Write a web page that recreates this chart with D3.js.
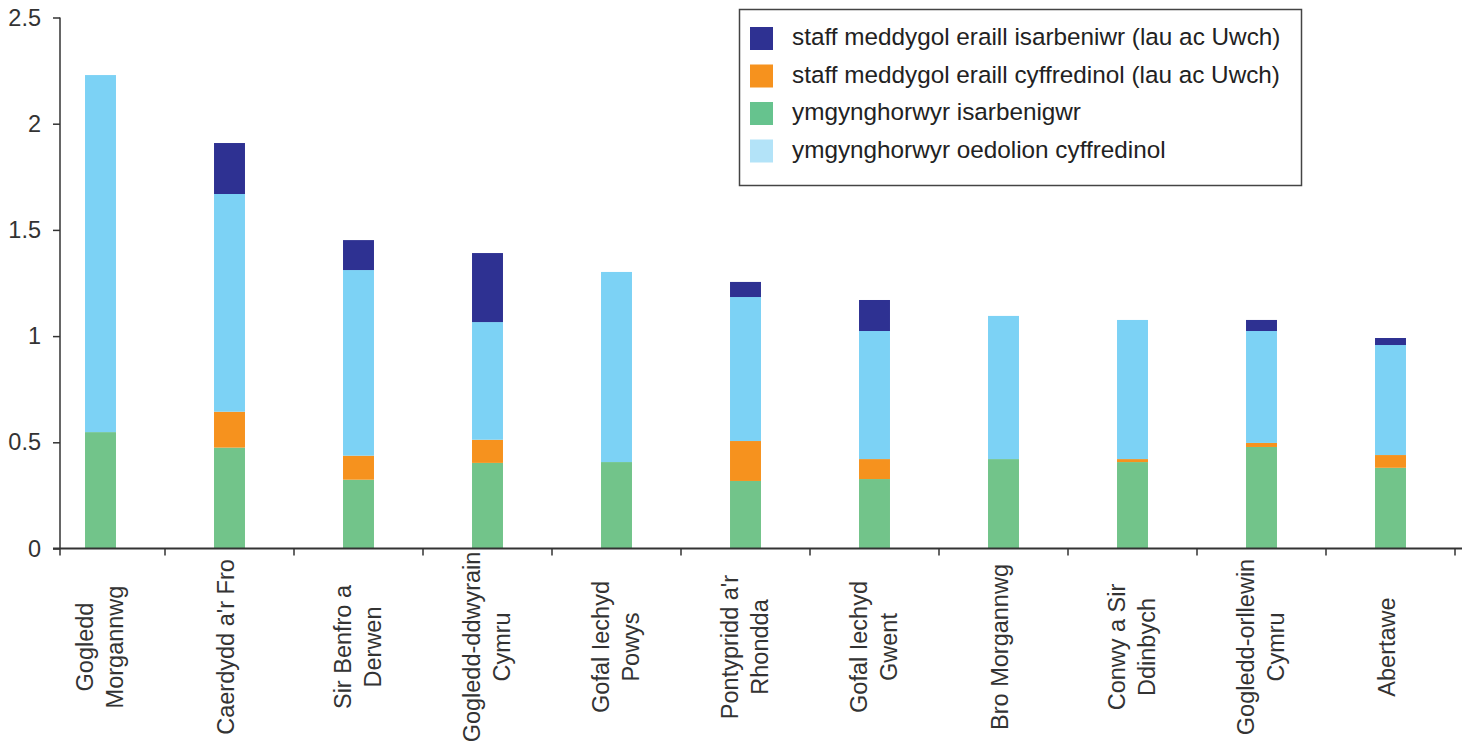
<!DOCTYPE html>
<html>
<head>
<meta charset="utf-8">
<script src="https://cdn.jsdelivr.net/npm/d3@7"></script>
<style>
  html, body { margin: 0; padding: 0; background: #fff; }
  svg { display: block; font-family: "Liberation Sans", Arial, Helvetica, sans-serif; }
</style>
</head>
<body>
<svg id="chart" width="1464" height="744"></svg>
<script>
// Health board names, broken into the lines used under each bar
const categories = [
  "Gogledd Morgannwg", "Caerdydd a'r Fro", "Sir Benfro a Derwen",
  "Gogledd-ddwyrain Cymru", "Gofal Iechyd Powys", "Pontypridd a'r Rhondda",
  "Gofal Iechyd Gwent", "Bro Morgannwg", "Conwy a Sir Ddinbych",
  "Gogledd-orllewin Cymru", "Abertawe"
];
const categoryLines = [
  ["Gogledd", "Morgannwg"], ["Caerdydd a'r Fro"], ["Sir Benfro a", "Derwen"],
  ["Gogledd-ddwyrain", "Cymru"], ["Gofal Iechyd", "Powys"], ["Pontypridd a'r", "Rhondda"],
  ["Gofal Iechyd", "Gwent"], ["Bro Morgannwg"], ["Conwy a Sir", "Ddinbych"],
  ["Gogledd-orllewin", "Cymru"], ["Abertawe"]
];

// Stacked series, bottom to top
const consultantsSpecialist = [0.548, 0.475, 0.324, 0.403, 0.407, 0.318, 0.327, 0.421, 0.407, 0.478, 0.380];
const otherStaffGeneral     = [0.000, 0.169, 0.113, 0.109, 0.000, 0.188, 0.094, 0.000, 0.014, 0.019, 0.060];
const consultantsGeneral    = [1.681, 1.025, 0.874, 0.554, 0.895, 0.678, 0.603, 0.674, 0.655, 0.527, 0.518];
const otherStaffSpecialist  = [0.000, 0.240, 0.141, 0.325, 0.000, 0.071, 0.146, 0.000, 0.000, 0.052, 0.033];

const seriesKeys = ["consultantsSpecialist", "otherStaffGeneral", "consultantsGeneral", "otherStaffSpecialist"];
const seriesValues = { consultantsSpecialist, otherStaffGeneral, consultantsGeneral, otherStaffSpecialist };
const barColors = {
  consultantsSpecialist: "#72c48a",
  otherStaffGeneral: "#f6921e",
  consultantsGeneral: "#7cd2f5",
  otherStaffSpecialist: "#2e3192"
};

// Legend entries, top to bottom
const legendLabels = [
  "staff meddygol eraill isarbeniwr (lau ac Uwch)",
  "staff meddygol eraill cyffredinol (lau ac Uwch)",
  "ymgynghorwyr isarbenigwr",
  "ymgynghorwyr oedolion cyffredinol"
];
const legendColors = ["#2e3192", "#f6921e", "#66c38e", "#b3e3f8"];

const yTicks = [0, 0.5, 1, 1.5, 2, 2.5];

const rows = categories.map((c, i) => {
  const r = { category: c };
  seriesKeys.forEach(k => { r[k] = seriesValues[k][i]; });
  return r;
});

const svg = d3.select("#chart");
const axisColor = "#333";

const x = d3.scaleBand()
  .domain(categories)
  .range([36, 1455])
  .paddingInner(0.76)
  .paddingOuter(0.38);

const y = d3.scaleLinear().domain([0, 2.5]).range([548.5, 17.5]);

const stacked = d3.stack().keys(seriesKeys)(rows);

// Bars
svg.append("g")
  .selectAll("g")
  .data(stacked)
  .join("g")
  .attr("fill", d => barColors[d.key])
  .selectAll("rect")
  .data(d => d)
  .join("rect")
  .attr("x", d => x(d.data.category))
  .attr("width", x.bandwidth())
  .attr("y", d => y(d[1]))
  .attr("height", d => Math.max(0, y(d[0]) - y(d[1])));

// Y axis
const yAxis = svg.append("g").attr("transform", "translate(60,0)")
  .call(d3.axisLeft(y).tickValues(yTicks).tickSize(7).tickPadding(12)
    .tickFormat(d3.format("~g")));
yAxis.select(".domain").remove();
yAxis.append("line")
  .attr("x1", 0).attr("x2", 0)
  .attr("y1", y(2.5)).attr("y2", y(0) + 7)
  .attr("stroke", axisColor).attr("stroke-width", 1.5);
yAxis.selectAll(".tick line").attr("stroke", axisColor).attr("stroke-width", 1.5);
yAxis.selectAll(".tick text")
  .attr("font-size", 23.5)
  .attr("fill", "#333")
  .attr("font-family", "Liberation Sans, Arial, sans-serif");

// X axis line and separators between categories
const step = x.step();
const boundaries = categories.map(c => x(c) + x.bandwidth() + step * x.paddingInner() / 2);
const xAxis = svg.append("g");
xAxis.append("line")
  .attr("x1", 53).attr("x2", 1462)
  .attr("y1", y(0)).attr("y2", y(0))
  .attr("stroke", axisColor).attr("stroke-width", 1.8);
xAxis.selectAll("line.sep")
  .data(boundaries)
  .join("line")
  .attr("class", "sep")
  .attr("x1", d => d).attr("x2", d => d)
  .attr("y1", y(0)).attr("y2", y(0) + 7)
  .attr("stroke", axisColor).attr("stroke-width", 1.5);

// Category labels, rotated, reading upwards
const labelMidY = 647;
const labelG = svg.append("g")
  .attr("font-size", 23.5)
  .attr("fill", "#333");
categoryLines.forEach((lines, i) => {
  const cx = x(categories[i]) + x.bandwidth() / 2;
  const offsets = lines.length === 1 ? [4] : [-7.5, 22];
  lines.forEach((line, j) => {
    labelG.append("text")
      .attr("transform", `translate(${cx + offsets[j]},${labelMidY}) rotate(-90)`)
      .attr("text-anchor", "middle")
      .text(line);
  });
});

// Legend
const legend = svg.append("g");
legend.append("rect")
  .attr("x", 739.5).attr("y", 9.5)
  .attr("width", 562).attr("height", 176)
  .attr("fill", "#fff")
  .attr("stroke", "#444").attr("stroke-width", 1.5);
const legendRow = legend.selectAll("g.row")
  .data(legendLabels)
  .join("g")
  .attr("class", "row")
  .attr("transform", (d, i) => `translate(750,${27 + i * 37.5})`);
legendRow.append("rect")
  .attr("width", 23).attr("height", 23)
  .attr("fill", (d, i) => legendColors[i]);
legendRow.append("text")
  .attr("x", 42).attr("y", 18)
  .attr("font-size", 24.3)
  .attr("fill", "#222")
  .text(d => d);
</script>
</body>
</html>
